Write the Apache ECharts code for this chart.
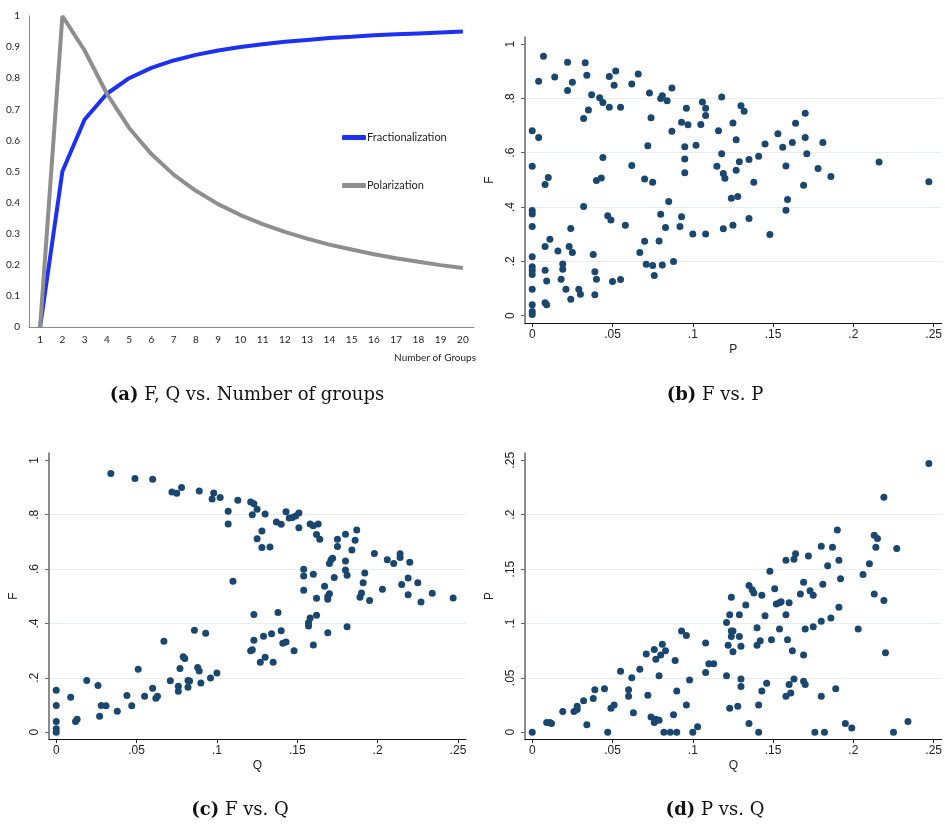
<!DOCTYPE html>
<html>
<head>
<meta charset="utf-8">
<title>Fractionalization and polarization</title>
<script src="https://cdn.jsdelivr.net/npm/echarts@6/dist/echarts.min.js"></script>
<style>
  html, body { margin: 0; padding: 0; background: #fff; }
  #wrap { position: relative; width: 945px; height: 825px; }
  #scatters { position: absolute; left: 0; top: 0; width: 945px; height: 825px; }
  #lines { position: absolute; left: 0; top: 0; width: 480px; height: 420px; z-index: 2; }
</style>
</head>
<body>
<div id="wrap">
  <div id="scatters"></div>
  <div id="lines"></div>
</div>
<script>
// panel (a): index values by number of groups
const groups = ['1', '2', '3', '4', '5', '6', '7', '8', '9', '10', '11', '12', '13', '14', '15', '16', '17', '18', '19', '20'];
const fractionalization = [0, 0.5, 0.667, 0.75, 0.8, 0.833, 0.857, 0.875, 0.889, 0.9, 0.909, 0.917, 0.923, 0.929, 0.933, 0.938, 0.941, 0.944, 0.947, 0.95];
const polarization = [0, 1, 0.889, 0.75, 0.64, 0.556, 0.49, 0.438, 0.395, 0.36, 0.331, 0.306, 0.284, 0.265, 0.249, 0.234, 0.221, 0.21, 0.199, 0.19];

// panel (b): [P, F]
const fVsP = [
  [0.007,0.955],[0.004,0.863],[0.014,0.879],[0.022,0.933],[0.022,0.829],[0.025,0.859],[0.033,0.931],[0.034,0.885],
  [0.032,0.726],[0.037,0.813],[0.035,0.757],[0.042,0.802],[0.044,0.785],[0.048,0.881],[0.052,0.901],[0.051,0.848],
  [0.048,0.767],[0.055,0.767],[0.066,0.890],[0.062,0.853],[0.073,0.820],[0.074,0.729],[0.072,0.626],[0.080,0.800],
  [0.081,0.810],[0.084,0.791],[0.087,0.838],[0.087,0.679],[0.093,0.712],[0.096,0.764],[0.097,0.703],[0.095,0.622],
  [0.095,0.577],[0.095,0.526],[0.102,0.627],[0.105,0.704],[0.106,0.787],[0.108,0.764],[0.108,0.737],
  [0,0.681],[0.004,0.656],[0,0.550],[0.010,0.509],[0.008,0.483],[0.044,0.582],[0.040,0.498],[0.043,0.507],
  [0.062,0.553],[0.070,0.503],[0.075,0.491],[0.085,0.420],
  [0,0.387],[0,0.374],[0,0.328],[0.032,0.402],[0.047,0.368],[0.049,0.352],[0.058,0.333],[0.080,0.373],
  [0.083,0.325],[0.092,0.328],[0.093,0.364],[0.100,0.301],[0.108,0.301],
  [0.011,0.281],[0.008,0.255],[0.016,0.238],[0.024,0.321],[0.023,0.255],[0.025,0.233],[0.019,0.190],[0.019,0.171],
  [0.038,0.225],[0.070,0.274],[0.079,0.275],[0.067,0.233],[0.071,0.189],[0.075,0.185],[0.081,0.187],[0.088,0.199],
  [0.076,0.148],
  [0,0.217],[0,0.180],[0,0.166],[0,0.152],[0.008,0.167],[0.009,0.128],[0.018,0.134],[0.039,0.162],[0.040,0.134],
  [0.050,0.126],[0.055,0.133],
  [0,0.097],[0,0.040],[0,0.015],[0,0.004],[0.008,0.048],[0.009,0.040],[0.021,0.097],[0.024,0.060],[0.029,0.097],
  [0.030,0.079],[0.039,0.077],
  [0.118,0.805],[0.130,0.773],[0.132,0.753],[0.125,0.709],[0.116,0.681],[0.127,0.648],[0.118,0.596],[0.115,0.550],
  [0.119,0.523],[0.120,0.506],[0.127,0.535],[0.129,0.567],[0.135,0.575],[0.141,0.587],[0.145,0.632],[0.153,0.670],
  [0.156,0.620],[0.162,0.638],[0.164,0.708],[0.170,0.745],[0.170,0.656],[0.171,0.596],[0.158,0.551],[0.178,0.542],
  [0.181,0.638],[0.186,0.512],[0.138,0.491],[0.169,0.480],[0.124,0.432],[0.128,0.439],[0.159,0.428],[0.158,0.388],
  [0.135,0.358],[0.125,0.333],[0.119,0.320],[0.148,0.299],[0.216,0.566],[0.247,0.493]
];

// panel (c): [Q, F]
const fVsQ = [
  [0.034,0.952],[0.049,0.933],[0.060,0.930],[0.072,0.884],[0.075,0.879],[0.078,0.900],[0.089,0.887],[0.097,0.858],
  [0.098,0.880],[0.102,0.863],[0.113,0.853],[0.107,0.813],[0.107,0.766],[0.110,0.555],
  [0,0.154],[0,0.098],[0,0.039],[0,0.013],[0,0],[0.009,0.129],[0.012,0.039],[0.013,0.048],[0.019,0.190],[0.026,0.172],
  [0.028,0.098],[0.031,0.097],[0.027,0.059],[0.038,0.077],[0.044,0.135],[0.047,0.097],[0.051,0.232],[0.055,0.132],
  [0.060,0.162],[0.062,0.125],[0.063,0.132],[0.067,0.335],[0.071,0.189],[0.077,0.234],[0.076,0.169],[0.076,0.151],
  [0.079,0.278],[0.080,0.271],[0.082,0.190],[0.083,0.188],[0.082,0.165],[0.086,0.375],[0.088,0.238],[0.089,0.225],
  [0.090,0.181],[0.093,0.364],[0.096,0.199],[0.100,0.218],[0.121,0.300],
  [0.121,0.847],[0.123,0.840],[0.125,0.820],[0.122,0.800],[0.130,0.803],[0.143,0.811],[0.145,0.788],[0.147,0.790],
  [0.149,0.795],[0.151,0.806],[0.151,0.752],[0.137,0.773],[0.140,0.765],[0.158,0.766],[0.160,0.759],[0.163,0.766],
  [0.162,0.727],[0.164,0.710],[0.128,0.740],[0.125,0.712],[0.128,0.679],[0.133,0.681],[0.175,0.710],[0.175,0.683],
  [0.180,0.728],[0.187,0.744],[0.186,0.706],[0.184,0.670],[0.198,0.657],[0.206,0.634],[0.210,0.621],[0.214,0.656],
  [0.214,0.643],[0.220,0.625],[0.171,0.634],[0.172,0.640],[0.170,0.621],[0.180,0.630],[0.180,0.597],[0.181,0.577],
  [0.154,0.599],[0.154,0.575],[0.160,0.581],[0.173,0.569],[0.192,0.586],[0.191,0.550],[0.154,0.522],[0.162,0.493],
  [0.167,0.537],[0.170,0.509],[0.169,0.499],[0.169,0.489],[0.190,0.512],[0.189,0.496],[0.195,0.484],[0.203,0.526],
  [0.215,0.543],[0.219,0.567],[0.225,0.550],[0.219,0.506],[0.227,0.479],[0.234,0.511],[0.247,0.494],
  [0.123,0.433],[0.138,0.440],[0.158,0.420],[0.157,0.403],[0.157,0.391],[0.162,0.430],[0.169,0.366],[0.181,0.388],
  [0.140,0.373],[0.129,0.353],[0.134,0.362],[0.123,0.338],[0.122,0.303],[0.141,0.327],[0.143,0.332],[0.148,0.300],
  [0.160,0.321],[0.130,0.276],[0.127,0.257],[0.135,0.257]
];

// panel (d): [Q, P]
const pVsQ = [
  [0,0],[0.009,0.009],[0.011,0.009],[0.012,0.008],[0.019,0.019],[0.026,0.019],[0.028,0.021],[0.028,0.024],[0.032,0.029],
  [0.034,0.007],[0.038,0.031],[0.039,0.039],[0.045,0.040],[0.047,0],[0.049,0.022],[0.051,0.025],[0.055,0.056],
  [0.060,0.039],[0.060,0.033],[0.062,0.050],[0.063,0.018],[0.067,0.058],[0.071,0.072],[0.072,0.034],[0.074,0.014],
  [0.076,0.076],[0.077,0.067],[0.076,0.009],[0.077,0.012],[0.079,0.011],[0.079,0.052],[0.080,0.071],[0.081,0.081],
  [0.083,0.075],[0.082,0],[0.086,0],[0.088,0.016],[0.089,0.066],[0.090,0.038],[0.090,0],[0.093,0.093],[0.096,0.089],
  [0.096,0.025],[0.098,0.048],[0.100,0],[0.103,0.005],[0.108,0.082],[0.108,0.055],[0.110,0.063],[0.113,0.063],
  [0.121,0.101],[0.123,0.108],[0.124,0.124],[0.129,0.108],[0.124,0.093],[0.125,0.093],[0.124,0.088],[0.129,0.088],
  [0.122,0.080],[0.130,0.079],[0.125,0.074],[0.121,0.052],[0.130,0.049],[0.130,0.042],[0.123,0.022],[0.128,0.024],
  [0.135,0.008],[0.141,0],[0.141,0.025],[0.143,0.038],[0.146,0.045],[0.133,0.117],[0.135,0.135],[0.137,0.131],
  [0.138,0.128],[0.143,0.126],[0.140,0.096],[0.140,0.080],[0.142,0.084],[0.145,0.107],[0.149,0.085],[0.148,0.148],
  [0.151,0.132],[0.152,0.118],[0.154,0.119],[0.155,0.120],[0.154,0.095],[0.158,0.158],[0.163,0.159],[0.164,0.164],
  [0.160,0.119],[0.158,0.108],[0.159,0.085],[0.162,0.075],[0.163,0.049],[0.160,0.044],[0.161,0.036],[0.158,0.033],
  [0.172,0.162],[0.169,0.138],[0.167,0.127],[0.173,0.130],[0.175,0.126],[0.170,0.095],[0.175,0.097],[0.169,0.071],
  [0.169,0.047],[0.170,0.044],[0.176,0],[0.180,0.171],[0.181,0.136],[0.180,0.102],[0.180,0.033],[0.182,0],
  [0.184,0.153],[0.187,0.170],[0.186,0.105],[0.189,0.040],[0.190,0.186],[0.191,0.158],[0.192,0.141],[0.191,0.115],
  [0.195,0.008],[0.199,0.004],[0.203,0.095],[0.206,0.145],[0.210,0.155],[0.213,0.181],[0.215,0.178],[0.214,0.170],
  [0.213,0.127],[0.219,0.216],[0.219,0.121],[0.220,0.073],[0.225,0],[0.227,0.169],[0.234,0.010],[0.247,0.247]
];

// tick labels
const fTicks = [0, 0.2, 0.4, 0.6, 0.8, 1];
const shareTicks = [0, 0.05, 0.1, 0.15, 0.2, 0.25];

// stata leaves a small gap between the axis lines and the data range
const fRangeB = { min: -0.027, max: 1.026 };
const fRangeC = { min: -0.025, max: 1.027 };
const shareRangeX = { min: -0.0045, max: 0.255 };
const shareRangeY = { min: -0.0062, max: 0.2567 };

const stataFont = 'Liberation Sans';
const navy = '#1a476f';
const excelAxisColor = '#8a8a8a';
const captionFont = 'DejaVu Serif';

// stata writes .05 instead of 0.05
function stataLabel(v) {
  const s = String(+v.toFixed(2));
  return s.replace(/^0\./, '.');
}

function stataX(grid, name, range, ticks) {
  return {
    type: 'value', gridIndex: grid, min: range.min, max: range.max,
    name: name, nameLocation: 'middle', nameGap: 21,
    nameTextStyle: { fontFamily: stataFont, fontSize: 12, color: '#222' },
    axisLine: { show: true, onZero: false, lineStyle: { color: '#111', width: 1 } },
    axisTick: { show: true, length: 4, customValues: ticks, lineStyle: { color: '#111' } },
    axisLabel: { customValues: ticks, formatter: stataLabel, margin: 6, fontFamily: stataFont, fontSize: 12, color: '#222' },
    splitLine: { show: false }
  };
}

function stataY(grid, name, range, ticks) {
  return {
    type: 'value', gridIndex: grid, min: range.min, max: range.max,
    name: name, nameLocation: 'middle', nameGap: 29, nameRotate: 90,
    nameTextStyle: { fontFamily: stataFont, fontSize: 12, color: '#222' },
    axisLine: { show: true, onZero: false, lineStyle: { color: '#666', width: 1.5 } },
    axisTick: { show: true, length: 4, customValues: ticks, lineStyle: { color: '#666' } },
    axisLabel: { customValues: ticks, formatter: stataLabel, rotate: 90, margin: 8, fontFamily: stataFont, fontSize: 12, color: '#222' },
    splitLine: { show: true, showMinLine: false, showMaxLine: false, lineStyle: { color: '#e6eef0', width: 1 } }
  };
}

function dots(x, y, data) {
  return {
    type: 'scatter', xAxisIndex: x, yAxisIndex: y, data: data,
    symbol: 'circle', symbolSize: 7,
    itemStyle: { color: navy, opacity: 1 },
    emphasis: { disabled: true }
  };
}

function caption(x, y, tag, text) {
  return {
    text: '{b|' + tag + '} ' + text,
    left: x, top: y, textAlign: 'center', padding: 0,
    textStyle: {
      fontFamily: captionFont, fontSize: 18, fontWeight: 'normal', color: '#111',
      rich: { b: { fontFamily: captionFont, fontSize: 18, fontWeight: 'bold', color: '#111' } }
    }
  };
}

// panels (b), (c), (d)
const scatters = echarts.init(document.getElementById('scatters'));
scatters.setOption({
  animation: false,
  grid: [
    { left: 525, top: 37, width: 417, height: 286 },
    { left: 49, top: 453, width: 417, height: 286 },
    { left: 525, top: 453, width: 417, height: 286 }
  ],
  title: [
    caption(247, 386, '(a)', 'F, Q vs. Number of groups'),
    caption(715, 386, '(b)', 'F vs. P'),
    caption(240, 801, '(c)', 'F vs. Q'),
    caption(715, 801, '(d)', 'P vs. Q')
  ],
  xAxis: [
    stataX(0, 'P', shareRangeX, shareTicks),
    stataX(1, 'Q', shareRangeX, shareTicks),
    stataX(2, 'Q', shareRangeX, shareTicks)
  ],
  yAxis: [
    stataY(0, 'F', fRangeB, fTicks),
    stataY(1, 'F', fRangeC, fTicks),
    stataY(2, 'P', shareRangeY, shareTicks)
  ],
  series: [dots(0, 0, fVsP), dots(1, 1, fVsQ), dots(2, 2, pVsQ)]
});

// panel (a)
const lines = echarts.init(document.getElementById('lines'));
lines.setOption({
  animation: false,
  grid: { left: 29, top: 16, width: 445, height: 311 },
  title: {
    text: 'Number of Groups', right: 4, top: 353, padding: 0,
    textStyle: { fontFamily: 'Lato', fontSize: 10, fontWeight: 'normal', color: '#222' }
  },
  legend: {
    data: ['Fractionalization', 'Polarization'],
    orient: 'vertical', left: 337, top: 127,
    icon: 'roundRect',
    itemWidth: 24, itemHeight: 5, itemGap: 37,
    textStyle: { fontFamily: 'Lato', fontSize: 11, color: '#222', padding: [0, 0, 0, -4] }
  },
  xAxis: {
    type: 'category', data: groups, boundaryGap: true,
    axisLine: { lineStyle: { color: excelAxisColor } },
    axisTick: { length: 3, lineStyle: { color: excelAxisColor } },
    axisLabel: { margin: 8, fontFamily: 'Lato', fontSize: 10, color: '#222' }
  },
  yAxis: {
    type: 'value', min: 0, max: 1, interval: 0.1,
    axisLine: { show: true, lineStyle: { color: excelAxisColor } },
    axisTick: { show: false },
    axisLabel: { margin: 9, fontFamily: 'Lato', fontSize: 10, color: '#222' },
    splitLine: { show: false }
  },
  series: [
    {
      name: 'Fractionalization', type: 'line', data: fractionalization,
      symbol: 'none', color: '#1c31f5', lineStyle: { width: 4, color: '#1c31f5' }
    },
    {
      name: 'Polarization', type: 'line', data: polarization,
      symbol: 'none', color: '#8e8e8e', lineStyle: { width: 4, color: '#8e8e8e' }
    }
  ]
});
</script>
</body>
</html>
